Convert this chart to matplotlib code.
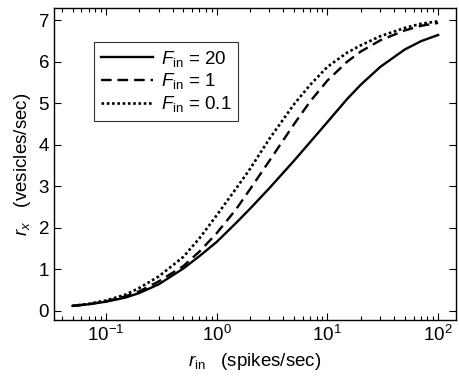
import matplotlib
matplotlib.use('Agg')
import matplotlib.pyplot as plt

# Input rate (spikes/sec), log spaced
r_in = [0.05, 0.07, 0.1, 0.15, 0.2, 0.3, 0.5, 0.7, 1, 1.5, 2, 3, 5, 7, 10, 15, 20, 30, 50, 70, 100]

# Output vesicle rate for each F_in
rx_f20 = [0.12, 0.16, 0.22, 0.32, 0.43, 0.64, 1.02, 1.32, 1.66, 2.12, 2.46, 2.96, 3.62,
          4.07, 4.55, 5.1, 5.45, 5.88, 6.3, 6.5, 6.65]
rx_f1 = [0.12, 0.16, 0.23, 0.35, 0.47, 0.71, 1.08, 1.43, 1.87, 2.45, 2.93, 3.62, 4.5,
         5.05, 5.55, 6.0, 6.25, 6.52, 6.76, 6.87, 6.94]
rx_f01 = [0.12, 0.17, 0.25, 0.39, 0.55, 0.83, 1.3, 1.75, 2.3, 2.95, 3.42, 4.15, 4.98,
          5.45, 5.88, 6.22, 6.4, 6.62, 6.82, 6.92, 6.98]

labels = ['$F_{\\mathrm{in}}$ = 20', '$F_{\\mathrm{in}}$ = 1', '$F_{\\mathrm{in}}$ = 0.1']

plt.rcParams['font.family'] = ['Liberation Sans', 'DejaVu Sans']
plt.rcParams['mathtext.fontset'] = 'custom'
plt.rcParams['mathtext.it'] = 'Liberation Sans:italic'
plt.rcParams['mathtext.rm'] = 'Liberation Sans'
plt.rcParams['font.size'] = 13.5

fig = plt.figure(figsize=(4.59, 3.77), dpi=100)
ax = fig.add_axes([0.1176, 0.1512, 0.8759, 0.8276])

ax.plot(r_in, rx_f20, color='black', linestyle='-', linewidth=1.7, label=labels[0])
ax.plot(r_in, rx_f1, color='black', linestyle=(0, (4.5, 2.5)), linewidth=1.7, label=labels[1])
ax.plot(r_in, rx_f01, color='black', linestyle=(0, (1, 1)), linewidth=1.9, label=labels[2])

ax.set_xscale('log')
ax.set_xlim(0.034, 145)
ax.set_ylim(-0.22, 7.3)
ax.set_yticks(range(0, 8))

ax.tick_params(which='both', direction='in', top=True, right=True, width=0.8)
ax.tick_params(which='major', length=5)
ax.tick_params(which='minor', length=3)
for s in ax.spines.values():
    s.set_linewidth(1.0)

ax.set_xlabel('$r_{\\mathrm{in}}$   (spikes/sec)', labelpad=4)
ax.set_ylabel('$r_x$   (vesicles/sec)', labelpad=4)

leg = ax.legend(loc='upper left', bbox_to_anchor=(0.0995, 0.891), borderaxespad=0,
                frameon=True, fancybox=False, edgecolor='black', handlelength=2.8,
                borderpad=0.35, labelspacing=0.15, handletextpad=0.4, fontsize=13.5)
leg.get_frame().set_linewidth(0.8)

plt.savefig('out.png', dpi=100)
